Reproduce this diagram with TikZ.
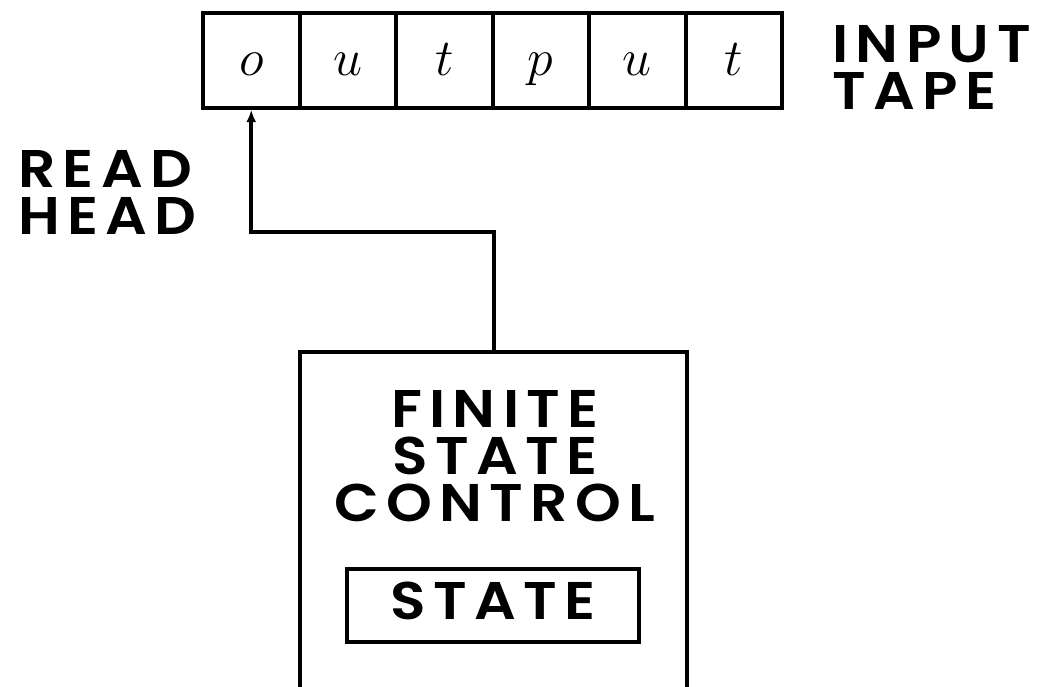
\RequirePackage{fix-cm}
\documentclass[tikz,border=0pt]{standalone}
\usepackage{fontspec}
\usetikzlibrary{arrows.meta}
\newfontfamily\capsfont{Poppins}[BoldFont={* SemiBold},LetterSpace=14,FakeStretch=1.1]
\begin{document}
\begin{tikzpicture}[x=1pt,y=-1pt,
  rule/.style={line width=4pt},
  cell/.style={draw,rule,minimum width=96.5pt,minimum height=95pt,inner sep=0pt,
    text height=35pt,text depth=6pt,font=\fontsize{52}{52}\selectfont},
  caps/.style={font=\capsfont\bfseries\fontsize{53}{47}\selectfont,inner sep=0pt},
  head/.style={rule,-{Latex[length=12pt,width=10pt]}}]
\useasboundingbox (0,0) rectangle (1046,686);

% input tape
\foreach \ch [count=\i] in {o,u,t,p,u,t}
  \node[cell] (c\i) at ({203+96.5*(\i-0.5)},60.5) {$\ch$};
\node[caps,align=left,anchor=north west] (tapelabel) at (832,25) {INPUT\\TAPE};
\node[caps,align=left,anchor=north west] (headlabel) at (18,150) {READ\\HEAD};

% finite state control, open at the bottom
\node[minimum width=387pt,minimum height=360pt,inner sep=0pt] (fsc) at (493.5,532) {};
\draw[rule] (fsc.south west) -- (fsc.north west) -- (fsc.north east) -- (fsc.south east);
\node[caps,align=center,anchor=north] (fsclabel) at (495,390) {FINITE\\STATE\\CONTROL};
\node[caps,draw,rule,minimum width=292pt,minimum height=73pt,
  text height=37pt,text depth=10pt] (state) at (493,605.5) {STATE};

% read head
\coordinate (knee) at (251.25,232);
\draw[head] (fsc.north) |- (knee) -- (c1.south);
\end{tikzpicture}
\end{document}
